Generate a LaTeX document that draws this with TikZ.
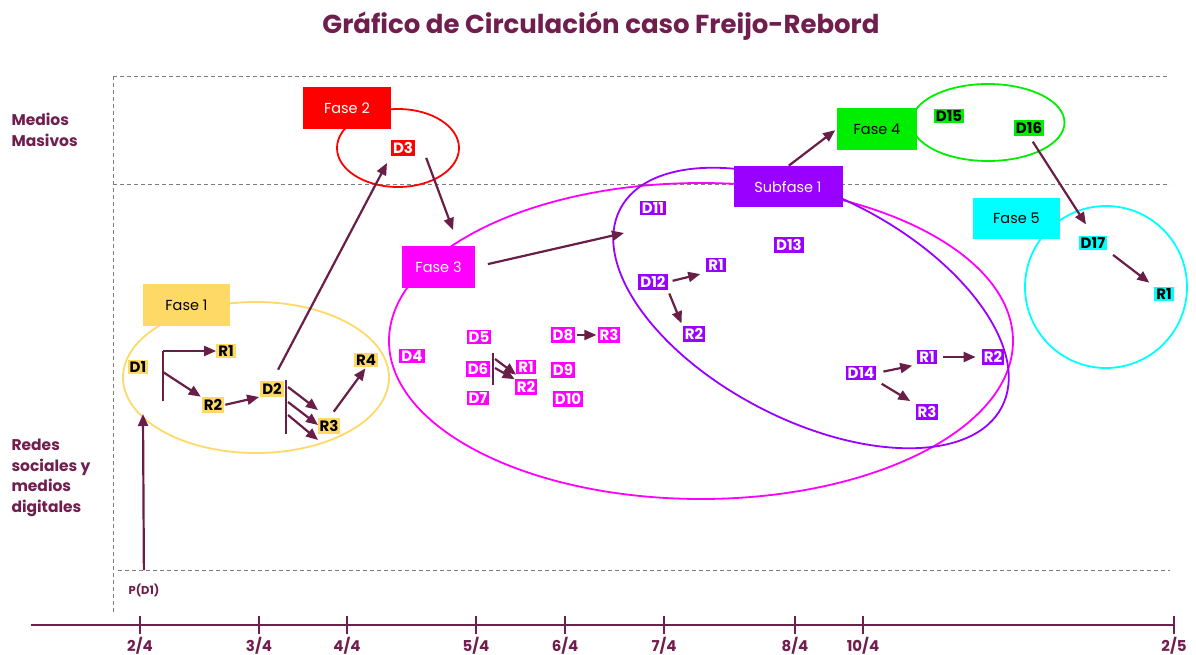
\documentclass[tikz,border=0pt]{standalone}
\usepackage{fontspec}
\setmainfont{Poppins}
\usetikzlibrary{arrows.meta}
\definecolor{maroon}{RGB}{112,30,78}
\definecolor{arr}{RGB}{105,30,72}
\definecolor{fy}{RGB}{255,217,102}
\definecolor{fr}{RGB}{255,0,0}
\definecolor{fm}{RGB}{255,0,255}
\definecolor{fp}{RGB}{153,0,255}
\definecolor{fg}{RGB}{0,238,0}
\definecolor{fc}{RGB}{0,255,255}
\definecolor{dgray}{RGB}{125,125,125}
\begin{document}
\begin{tikzpicture}[x=1pt,y=-1pt,
  guide/.style={dgray, line width=0.9pt, dash pattern=on 4pt off 3pt},
  fasebox/.style={rectangle, inner sep=0pt, minimum height=42pt, font=\fontsize{14.5}{14.5}\selectfont},
  tag/.style={rectangle, inner sep=2pt, font=\fontsize{15}{15}\selectfont\bfseries},
  arw/.style={arr, line width=2.2pt, -{Triangle[length=12pt,width=10pt]}},
  bar/.style={arr, line width=2.2pt},
  ring/.style={line width=1.8pt},
  side/.style={anchor=west, align=left, text=maroon, font=\fontsize{15.5}{20.5}\selectfont\bfseries},
  ticklbl/.style={text=maroon, font=\fontsize{15}{15}\selectfont\bfseries},
  axisline/.style={maroon, line width=2.4pt}
]
\useasboundingbox (0,0) rectangle (1196,655);
\fill[white] (0,0) rectangle (1196,655);

% title
\node[text=maroon, font=\fontsize{26}{26}\selectfont\bfseries] (title) at (601,26) {Gráfico de Circulación caso Freijo-Rebord};

% side labels
\node[side] (mm) at (8,130) {Medios\\Masivos};
\node[side] (rs) at (8,478) {Redes\\sociales y\\medios\\digitales};

% guides
\draw[guide] (113,76) -- (113,612);
\draw[guide] (113,76) -- (1170,76);
\draw[guide] (113,184) -- (1170,184);
\draw[guide] (118,570) -- (1170,570);

% axis
\draw[axisline] (31,625) -- (1174,625);
\foreach \x/\l [count=\i] in {140/{2/4},259/{3/4},347/{4/4},476/{5/4},565/{6/4},664/{7/4},795/{8/4},863/{10/4},1174/{2/5}}{
  \draw[axisline] (\x,616) -- (\x,634);
  \node[ticklbl] (tk\i) at (\x,646) {\l};
}

% ellipses
\draw[ring, fy] (256,377.5) ellipse [x radius=133pt, y radius=75.5pt];
\draw[ring, fr] (398,148) ellipse [x radius=61pt, y radius=39pt];
\draw[ring, fm] (701,341) ellipse [x radius=312pt, y radius=158pt];
\draw[ring, fp, rotate around={-27.4:(811,308)}] (811,308) ellipse [x radius=215pt, y radius=112pt];
\draw[ring, fg] (988,122.5) ellipse [x radius=76.5pt, y radius=38.5pt];
\draw[ring, fc] (1106,287) circle [radius=81pt];

% phase boxes
\node[fasebox, fill=fy, minimum width=87pt] (F1) at (186.5,305) {Fase 1};
\node[fasebox, fill=fr, text=white, minimum width=88pt] (F2) at (347,108.5) {Fase 2};
\node[fasebox, fill=fm, text=white, minimum width=73pt] (F3) at (438.5,267) {Fase 3};
\node[fasebox, fill=fp, text=white, minimum width=109pt, minimum height=41pt] (SF) at (788,187) {Subfase 1};
\node[fasebox, fill=fg, minimum width=80pt] (F4) at (877,129) {Fase 4};
\node[fasebox, fill=fc, minimum width=87pt, minimum height=41pt] (F5) at (1016.5,218.5) {Fase 5};

% Fase 1 tags
\node[tag, fill=fy] (D1) at (138,367) {D1};
\node[tag, fill=fy] (R1a) at (226,351) {R1};
\node[tag, fill=fy] (R2a) at (213,405) {R2};
\node[tag, fill=fy] (D2) at (272,389) {D2};
\node[tag, fill=fy] (R3a) at (329,426) {R3};
\node[tag, fill=fy] (R4a) at (366,360) {R4};
\node[text=maroon, font=\fontsize{11.5}{11.5}\selectfont\bfseries] (P) at (144,590) {P(D1)};

% Fase 2 tag
\node[tag, fill=fr, text=white] (D3) at (403,148) {D3};

% Fase 3 tags
\node[tag, fill=fm, text=white] (D4) at (412,356) {D4};
\node[tag, fill=fm, text=white] (D5) at (479,337) {D5};
\node[tag, fill=fm, text=white] (D6) at (478,369) {D6};
\node[tag, fill=fm, text=white] (D7) at (478,398) {D7};
\node[tag, fill=fm, text=white] (R1b) at (526,367) {R1};
\node[tag, fill=fm, text=white] (R2b) at (526,387) {R2};
\node[tag, fill=fm, text=white] (D8) at (563,335) {D8};
\node[tag, fill=fm, text=white] (R3b) at (609,335) {R3};
\node[tag, fill=fm, text=white] (D9) at (563,370) {D9};
\node[tag, fill=fm, text=white] (D10) at (568,399) {D10};

% Subfase tags
\node[tag, fill=fp, text=white] (D11) at (653,208) {D11};
\node[tag, fill=fp, text=white] (D13) at (789,245) {D13};
\node[tag, fill=fp, text=white] (D12) at (653,282) {D12};
\node[tag, fill=fp, text=white] (R1c) at (716,265) {R1};
\node[tag, fill=fp, text=white] (R2c) at (694,334) {R2};
\node[tag, fill=fp, text=white] (D14) at (861,373) {D14};
\node[tag, fill=fp, text=white] (R1d) at (927,357) {R1};
\node[tag, fill=fp, text=white] (R2d) at (993,357) {R2};
\node[tag, fill=fp, text=white] (R3d) at (927,412) {R3};

% Fase 4 / 5 tags
\node[tag, fill=fg] (D15) at (949,116) {D15};
\node[tag, fill=fg] (D16) at (1029,128) {D16};
\node[tag, fill=fc] (D17) at (1093,243) {D17};
\node[tag, fill=fc] (R1e) at (1164,294) {R1};

% free-end coordinates
\coordinate (pin) at (143,414);
\coordinate (b1) at (163,401);
\coordinate (b2) at (163,351);
\coordinate (b3) at (163,372);
\coordinate (db1) at (286,380);
\coordinate (db2) at (286,434);
\coordinate (da1) at (288,387);
\coordinate (da2) at (288,402);
\coordinate (da3) at (288,415);
\coordinate (r3t1) at (318,410);
\coordinate (r3t2) at (318,425);
\coordinate (r3t3) at (318,440);
\coordinate (d3t) at (387,163);
\coordinate (f3t) at (453,230);
\coordinate (sfin) at (624,233);
\coordinate (vb1) at (493,353);
\coordinate (vb2) at (493,385);
\coordinate (va1) at (495,359);
\coordinate (va2) at (495,368);

% connectors
\draw[arw, shorten <=10pt] (P) -- (pin);
\draw[bar] (b1) -- (b2);
\draw[arw] (b2) -- (R1a.west);
\draw[arw, shorten >=1pt] (b3) -- (R2a.north west);
\draw[arw, shorten <=1pt, shorten >=1pt] (R2a.east) -- (D2.south west);
\draw[bar] (db1) -- (db2);
\draw[arw] (da1) -- (r3t1);
\draw[arw] (da2) -- (r3t2);
\draw[arw] (da3) -- (r3t3);
\draw[arw, shorten <=8pt, shorten >=1pt] (R3a.north) -- (R4a.south);
\draw[arw, shorten <=13pt] (D2.north) -- (d3t);
\draw[arw] ([xshift=11pt,yshift=-2pt]D3.south east) -- (f3t);
\draw[arw, shorten <=13pt] (F3.east) -- (sfin);
\draw[bar] (vb1) -- (vb2);
\draw[arw] (va1) -- (R1b.south west);
\draw[arw] (va2) -- (R2b.north west);
\draw[arw, shorten <=1pt, shorten >=1pt] (D8.east) -- (R3b.west);
\draw[arw, shorten <=5pt, shorten >=6pt] (D12.east) -- (R1c.south west);
\draw[arw, shorten <=4pt, shorten >=3pt] (D12.south east) -- (R2c.north west);
\draw[arw, shorten <=7pt, shorten >=5pt] (D14.east) -- (R1d.south west);
\draw[arw, shorten <=6pt, shorten >=6pt] (R1d.east) -- (R2d.west);
\draw[arw, shorten <=6pt, shorten >=6pt] (D14.south east) -- (R3d.north west);
\draw[arw, shorten <=1pt, shorten >=2pt] (SF.north) -- (F4.west);
\draw[arw, shorten <=7pt, shorten >=13pt] (D16.south) -- (D17.north);
\draw[arw, shorten <=7pt, shorten >=6pt] (D17.south east) -- (R1e.north west);
\end{tikzpicture}
\end{document}
